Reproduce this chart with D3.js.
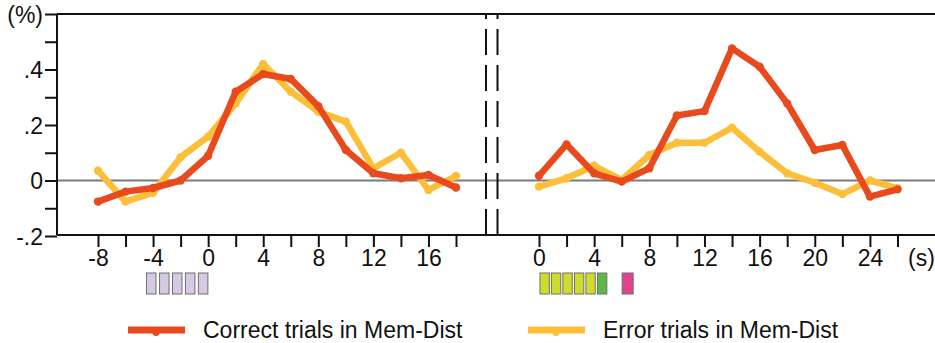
<!DOCTYPE html>
<html>
<head>
<meta charset="utf-8">
<script src="https://cdn.jsdelivr.net/npm/d3@7"></script>
<style>
  body { margin: 0; background: #fff; }
  svg text { font-family: "Liberation Sans", Arial, sans-serif; fill: #111; }
</style>
</head>
<body>
<div id="chart"></div>
<script>
// time (s) for each panel
const timesLeft = [-8, -6, -4, -2, 0, 2, 4, 6, 8, 10, 12, 14, 16, 18];
const timesRight = [0, 2, 4, 6, 8, 10, 12, 14, 16, 18, 20, 22, 24, 26];

// signal change (%)
const correctLeft = [-0.076, -0.04, -0.027, 0.0, 0.089, 0.32, 0.384, 0.366, 0.268, 0.11, 0.026, 0.008, 0.02, -0.025];
const errorLeft = [0.035, -0.076, -0.044, 0.084, 0.158, 0.278, 0.42, 0.32, 0.248, 0.212, 0.044, 0.1, -0.034, 0.016];
const correctRight = [0.017, 0.13, 0.026, -0.004, 0.044, 0.234, 0.25, 0.476, 0.41, 0.278, 0.11, 0.128, -0.058, -0.032];
const errorRight = [-0.022, 0.008, 0.053, 0.002, 0.092, 0.136, 0.136, 0.19, 0.104, 0.026, -0.008, -0.049, 0.0, -0.028];

const yTicks = [-0.2, -0.1, 0, 0.1, 0.2, 0.3, 0.4, 0.5, 0.6];
const yLabels = {"-0.2": "-.2", "0": "0", "0.2": ".2", "0.4": ".4", "0.6": "(%)"};

// stimulus boxes: [start s, duration s, colour]
const sampleBoxes = [[-4.48, 0.69, "#d6c9e2"], [-3.53, 0.69, "#d6c9e2"], [-2.59, 0.69, "#d6c9e2"], [-1.65, 0.69, "#d6c9e2"], [-0.71, 0.69, "#d6c9e2"]];
const testBoxes = [[0.07, 0.68, "#cfdc2e"], [0.9, 0.68, "#cfdc2e"], [1.73, 0.68, "#cfdc2e"], [2.57, 0.68, "#cfdc2e"], [3.4, 0.68, "#cfdc2e"], [4.24, 0.68, "#5cb848"], [6.03, 0.8, "#e2438f"]];

const seriesNames = ["Correct trials in Mem-Dist", "Error trials in Mem-Dist"];
const colors = ["#e8491d", "#fdbf3a"];

const width = 935, height = 343;
const axisX = 57, topY = 14, bottomY = 235;

const svg = d3.select("#chart").append("svg").attr("width", width).attr("height", height);

const y = d3.scaleLinear().domain([-0.2, 0.6]).range([bottomY + 1, topY]);
const xLeft = d3.scaleLinear().domain([-8, 18]).range([98, 456]);
const xRight = d3.scaleLinear().domain([0, 26]).range([539, 897.5]);

// frame
svg.append("line").attr("x1", axisX).attr("x2", width).attr("y1", topY).attr("y2", topY)
    .attr("stroke", "#111").attr("stroke-width", 2);
svg.append("line").attr("x1", axisX).attr("x2", width).attr("y1", bottomY).attr("y2", bottomY)
    .attr("stroke", "#111").attr("stroke-width", 2);

// zero line
svg.append("line").attr("x1", axisX).attr("x2", width).attr("y1", y(0)).attr("y2", y(0))
    .attr("stroke", "#7a7a7a").attr("stroke-width", 2);

// y axis
const gy = svg.append("g").attr("transform", `translate(${axisX},0)`)
    .call(d3.axisLeft(y).tickValues(yTicks).tickSize(12).tickPadding(2)
        .tickFormat(d => yLabels[String(+d.toFixed(1))] || ""));
gy.select(".domain").attr("stroke", "#111").attr("stroke-width", 2).attr("d", `M0,${topY}V${bottomY}`);
gy.selectAll(".tick line").attr("stroke", "#111").attr("stroke-width", 2);
gy.selectAll(".tick text").attr("font-size", 23).attr("fill", "#111").attr("dy", "0.36em")
    .attr("font-family", "Liberation Sans, Arial, sans-serif");

// x axes
function drawXAxis(x, times) {
    const g = svg.append("g").attr("transform", `translate(0,${bottomY})`)
        .call(d3.axisBottom(x).tickValues(times).tickSize(12).tickPadding(3)
            .tickFormat(d => d % 4 === 0 ? d : ""));
    g.select(".domain").remove();
    g.selectAll(".tick line").attr("stroke", "#111").attr("stroke-width", 2);
    g.selectAll(".tick text").attr("font-size", 23).attr("fill", "#111")
        .attr("font-family", "Liberation Sans, Arial, sans-serif");
}
drawXAxis(xLeft, timesLeft);
drawXAxis(xRight, timesRight);

svg.append("text").attr("x", 908).attr("y", 266).attr("font-size", 23).text("(s)");

// break marks
[486, 497.5].forEach(bx => {
    svg.append("line").attr("x1", bx).attr("x2", bx).attr("y1", bottomY).attr("y2", topY)
        .attr("stroke", "#111").attr("stroke-width", 2).attr("stroke-dasharray", "26,10");
});

// series
function drawSeries(x, times, values, color) {
    const pts = times.map((t, i) => [t, values[i]]);
    const line = d3.line().x(d => x(d[0])).y(d => y(d[1]));
    svg.append("path").datum(pts).attr("d", line).attr("fill", "none")
        .attr("stroke", color).attr("stroke-width", 6.5).attr("stroke-linejoin", "round");
    svg.append("g").selectAll("circle").data(pts).enter().append("circle")
        .attr("cx", d => x(d[0])).attr("cy", d => y(d[1])).attr("r", 4.2).attr("fill", color);
}
drawSeries(xLeft, timesLeft, errorLeft, colors[1]);
drawSeries(xRight, timesRight, errorRight, colors[1]);
drawSeries(xLeft, timesLeft, correctLeft, colors[0]);
drawSeries(xRight, timesRight, correctRight, colors[0]);

// stimulus boxes
function drawBoxes(x, boxes) {
    svg.append("g").selectAll("rect").data(boxes).enter().append("rect")
        .attr("x", d => x(d[0])).attr("y", 273)
        .attr("width", d => x(d[0] + d[1]) - x(d[0])).attr("height", 21)
        .attr("fill", d => d[2]).attr("stroke", "#6f6f6f").attr("stroke-width", 1);
}
drawBoxes(xLeft, sampleBoxes);
drawBoxes(xRight, testBoxes);

// legend
const legendX = [128, 528];
seriesNames.forEach((name, i) => {
    const g = svg.append("g").attr("transform", `translate(${legendX[i]},330)`);
    g.append("line").attr("x1", 0).attr("x2", 57).attr("y1", 0).attr("y2", 0)
        .attr("stroke", colors[i]).attr("stroke-width", 7);
    g.append("circle").attr("cx", 28).attr("cy", 2.5).attr("r", 3.5).attr("fill", colors[i]);
    g.append("text").attr("x", 75).attr("y", 8).attr("font-size", 23).text(name);
});
</script>
</body>
</html>
